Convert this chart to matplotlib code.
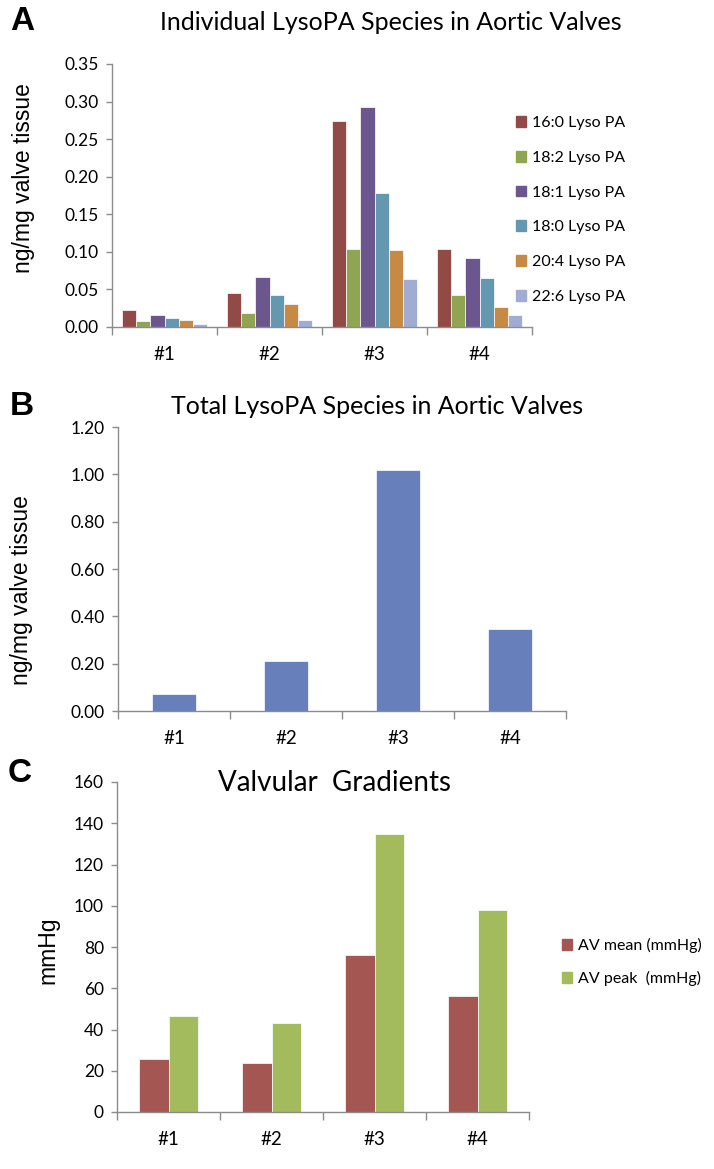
import matplotlib as mpl
mpl.use("Agg")
import matplotlib.pyplot as plt
import numpy as np
from matplotlib.patches import Patch

mpl.rcParams["font.family"] = ["Lato", "DejaVu Sans"]

categories = ["#1", "#2", "#3", "#4"]

species = ["16:0 Lyso PA", "18:2 Lyso PA", "18:1 Lyso PA",
           "18:0 Lyso PA", "20:4 Lyso PA", "22:6 Lyso PA"]
lpa_160 = [0.023, 0.045, 0.274, 0.104]
lpa_182 = [0.008, 0.019, 0.104, 0.042]
lpa_181 = [0.016, 0.066, 0.293, 0.092]
lpa_180 = [0.012, 0.042, 0.178, 0.065]
lpa_204 = [0.009, 0.030, 0.103, 0.026]
lpa_226 = [0.004, 0.009, 0.064, 0.016]

total_lpa = [0.073, 0.21, 1.02, 0.348]

gradient_names = ["AV mean (mmHg)", "AV peak  (mmHg)"]
av_mean = [25.7, 23.6, 76.0, 56.2]
av_peak = [46.7, 43.1, 135.0, 97.7]

colors_a = ["#924a47", "#8fa552", "#6c568e", "#6498b0", "#c68a45", "#a1acd4"]
color_b = "#6780bc"
colors_c = ["#a45752", "#a3bb5c"]

W, H = 714, 1169
fig = plt.figure(figsize=(W / 100, H / 100), dpi=100)


def box(left, top, right, bottom):
    return [left / W, 1 - bottom / H, (right - left) / W, (bottom - top) / H]


def style_axes(ax, n):
    for s in ["top", "right"]:
        ax.spines[s].set_visible(False)
    for s in ["left", "bottom"]:
        ax.spines[s].set_color("#8c8c8c")
        ax.spines[s].set_linewidth(1.0)
    ax.set_xlim(-0.5, n - 0.5)
    ax.set_xticks(np.arange(n + 1) - 0.5)
    ax.set_xticklabels([])
    ax.tick_params(axis="x", which="major", length=6, width=1.0, color="#8c8c8c")
    ax.set_xticks(np.arange(n), minor=True)
    ax.set_xticklabels(categories, minor=True, fontsize=13.5)
    ax.tick_params(axis="x", which="minor", length=0, pad=14)
    ax.tick_params(axis="y", length=4.5, width=1.0, color="#8c8c8c", labelsize=12.5, pad=5)


def letter(x, y, s):
    fig.text(x / W, 1 - y / H, s, fontsize=24, fontweight="bold",
             family="Liberation Sans", ha="center", va="center")


def ylab(x, y, s):
    fig.text(x / W, 1 - y / H, s, fontsize=16.5, family="Liberation Sans",
             rotation=90, ha="center", va="center")


x = np.arange(len(categories))

# A: individual species
ax1 = fig.add_axes(box(112, 64, 532, 327))
series = [lpa_160, lpa_182, lpa_181, lpa_180, lpa_204, lpa_226]
bw = 0.135
for i, vals in enumerate(series):
    ax1.bar(x + (i - 2.5) * bw, vals, bw, color=colors_a[i],
            edgecolor="white", linewidth=0.5, label=species[i])
ax1.set_ylim(0, 0.35)
ax1.set_yticks(np.arange(0, 0.351, 0.05))
ax1.yaxis.set_major_formatter(mpl.ticker.FormatStrFormatter("%.2f"))
style_axes(ax1, 4)
handles = [Patch(color=c) for c in colors_a]
fig.legend(handles, species, loc="center left", bbox_to_anchor=(516 / W, 1 - 210 / H),
           frameon=False, fontsize=11.5, handlelength=0.65, handleheight=0.65,
           handletextpad=0.35, labelspacing=1.3, borderpad=0, borderaxespad=0)
fig.text(391 / W, 1 - 22 / H, "Individual LysoPA Species in Aortic Valves",
         fontsize=18, ha="center", va="center")
letter(22, 21, "A")
ylab(24, 178, "ng/mg valve tissue")

# B: total
ax2 = fig.add_axes(box(118, 427, 566, 711))
ax2.bar(x, total_lpa, 0.39, color=color_b, edgecolor="white", linewidth=0.5)
ax2.set_ylim(0, 1.2)
ax2.set_yticks(np.arange(0, 1.21, 0.2))
ax2.yaxis.set_major_formatter(mpl.ticker.FormatStrFormatter("%.2f"))
style_axes(ax2, 4)
fig.text(377 / W, 1 - 407 / H, "Total LysoPA Species in Aortic Valves",
         fontsize=18, ha="center", va="center")
letter(22, 407, "B")
ylab(22, 590, "ng/mg valve tissue")

# C: valvular gradients
ax3 = fig.add_axes(box(117, 782, 529, 1112))
cw = 0.29
ax3.bar(x - cw / 2, av_mean, cw, color=colors_c[0], edgecolor="white", linewidth=0.5)
ax3.bar(x + cw / 2, av_peak, cw, color=colors_c[1], edgecolor="white", linewidth=0.5)
ax3.set_ylim(0, 160)
ax3.set_yticks(np.arange(0, 161, 20))
style_axes(ax3, 4)
handles = [Patch(color=c) for c in colors_c]
fig.legend(handles, gradient_names, loc="center left", bbox_to_anchor=(562 / W, 1 - 962 / H),
           frameon=False, fontsize=11.5, handlelength=0.65, handleheight=0.65,
           handletextpad=0.35, labelspacing=1.1, borderpad=0, borderaxespad=0)
fig.text(334 / W, 1 - 783 / H, "Valvular  Gradients", fontsize=20, ha="center", va="center")
letter(20, 773, "C")
ylab(48, 950, "mmHg")

fig.savefig("out.png", dpi=100)
